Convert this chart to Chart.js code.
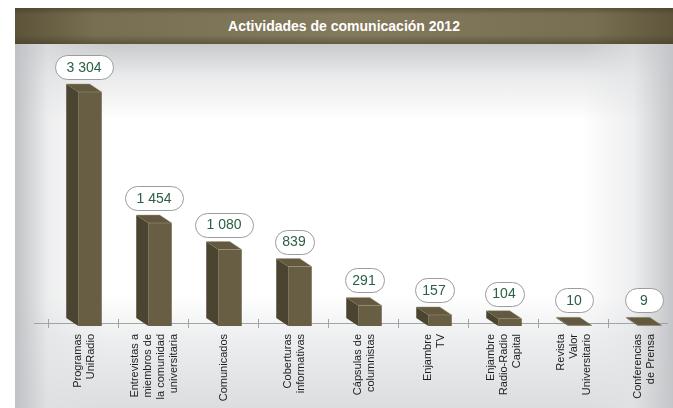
<!DOCTYPE html>
<html>
<head>
<meta charset="utf-8">
<title>Actividades de comunicación 2012</title>
<script src="https://cdn.jsdelivr.net/npm/chart.js@4.4.0/dist/chart.umd.min.js"></script>
<style>
  html, body { margin: 0; padding: 0; background: #fff; overflow: hidden; }
  .panel {
    position: absolute; left: 15px; top: 8px; width: 658px; height: 400px;
    background:
      linear-gradient(to right, rgba(192,193,196,1) 0%, rgba(225,226,228,0.6) 5%, rgba(255,255,255,0) 14%, rgba(255,255,255,0) 86%, rgba(226,227,229,0.6) 94%, rgba(196,197,200,1) 100%),
      linear-gradient(to bottom, #c9cacc 9%, #e9eaeb 17%, #fff 28%, #fff 72%, #eeeff0 82%, #dcdddf 100%);
  }
  .titleBar {
    position: absolute; left: 15px; top: 8px; width: 658px; height: 36px;
    background:
      linear-gradient(to bottom, rgba(60,52,34,0.45) 0%, rgba(0,0,0,0) 18%, rgba(0,0,0,0) 75%, rgba(60,52,34,0.45) 100%),
      linear-gradient(to right, #5c5339 0%, #786e51 12%, #847a5d 50%, #786e51 88%, #5e553b 100%);
    color: #fff; font: bold 14px "Liberation Sans", Arial, sans-serif;
    text-align: center; line-height: 36px;
  }
  #grafica { position: absolute; left: 0; top: 0; }
</style>
</head>
<body>
<div class="panel"></div>
<div class="titleBar">Actividades de comunicación 2012</div>
<canvas id="grafica" width="673" height="408"></canvas>
<script>
const categorias = [
  ["Programas", "UniRadio"],
  ["Entrevistas a", "miembros de", "la comunidad", "universitaria"],
  ["Comunicados"],
  ["Coberturas", "informativas"],
  ["Cápsulas de", "columnistas"],
  ["Enjambre", "TV"],
  ["Enjambre", "Radio-Radio", "Capital"],
  ["Revista", "Valor", "Universitario"],
  ["Conferencias", "de Prensa"]
];
const actividades = [3304, 1454, 1080, 839, 291, 157, 104, 10, 9];

// colores de las cajas
const FRENTE = "#685e44";
const LADO = "#4b4431";
const TAPA = "#625940";
const PROF_X = -12, PROF_Y = -8;

const fmt = (v) => String(v).replace(/\B(?=(\d{3})+(?!\d))/g, " ");

const cajas3d = {
  id: "cajas3d",
  beforeDatasetsDraw(chart) {
    const { ctx, chartArea, scales } = chart;
    const yEje = chartArea.bottom - 3;
    ctx.save();
    ctx.strokeStyle = "#a3a3a3";
    ctx.lineWidth = 1;
    ctx.beginPath();
    ctx.moveTo(chartArea.left, yEje + 0.5);
    ctx.lineTo(chartArea.right, yEje + 0.5);
    for (let i = 0; i <= categorias.length; i++) {
      const px = Math.round(scales.x.getPixelForValue(i - 0.6)) + 0.5;
      ctx.moveTo(px, yEje - 4);
      ctx.lineTo(px, yEje + 5);
    }
    ctx.stroke();
    ctx.restore();
  },
  afterDatasetsDraw(chart) {
    const ctx = chart.ctx;
    const meta = chart.getDatasetMeta(0);
    ctx.save();
    meta.data.forEach((bar) => {
      const { x, y, base, width } = bar.getProps(["x", "y", "base", "width"], true);
      const l = x - width / 2, r = x + width / 2;
      // cara lateral
      ctx.fillStyle = LADO;
      ctx.beginPath();
      ctx.moveTo(l, y);
      ctx.lineTo(l + PROF_X, y + PROF_Y);
      ctx.lineTo(l + PROF_X, base + PROF_Y);
      ctx.lineTo(l, base);
      ctx.closePath();
      ctx.fill();
      // tapa
      ctx.fillStyle = TAPA;
      ctx.beginPath();
      ctx.moveTo(l, y);
      ctx.lineTo(l + PROF_X, y + PROF_Y);
      ctx.lineTo(r + PROF_X, y + PROF_Y);
      ctx.lineTo(r, y);
      ctx.closePath();
      ctx.fill();
      // brillos en las aristas
      ctx.strokeStyle = "rgba(170,160,125,0.55)";
      ctx.lineWidth = 0.8;
      ctx.beginPath();
      ctx.moveTo(l + PROF_X, y + PROF_Y);
      ctx.lineTo(r + PROF_X, y + PROF_Y);
      ctx.lineTo(r, y);
      ctx.moveTo(l, y);
      ctx.lineTo(r, y);
      ctx.stroke();
    });
    ctx.restore();
  },
  afterDraw(chart) {
    const ctx = chart.ctx;
    const meta = chart.getDatasetMeta(0);
    const yEje = chart.chartArea.bottom - 3;
    ctx.save();
    meta.data.forEach((bar, i) => {
      const { x, y } = bar.getProps(["x", "y"], true);
      const cx = x - 6;

      // globo con el valor
      const txt = fmt(actividades[i]);
      ctx.font = "14px 'Liberation Sans', Arial, sans-serif";
      const tw = ctx.measureText(txt).width;
      const w = Math.max(38, Math.round(tw * 1.65));
      const h = 24;
      const cy = y - 25;
      ctx.beginPath();
      ctx.roundRect(Math.round(cx - w / 2) + 0.5, Math.round(cy - h / 2) + 0.5, w, h, 12);
      ctx.fillStyle = "#fff";
      ctx.fill();
      ctx.strokeStyle = "#9c9c9c";
      ctx.lineWidth = 1;
      ctx.stroke();
      ctx.fillStyle = "#2a6044";
      ctx.textAlign = "center";
      ctx.textBaseline = "middle";
      ctx.fillText(txt, cx, cy + 1);

      // etiqueta vertical
      const lineas = categorias[i];
      ctx.font = "11px 'Liberation Sans', Arial, sans-serif";
      ctx.fillStyle = "#1e1e1e";
      lineas.forEach((linea, j) => {
        const lx = cx + (j - (lineas.length - 1) / 2) * 13;
        ctx.save();
        ctx.translate(lx, yEje + 11);
        ctx.rotate(-Math.PI / 2);
        ctx.textAlign = "right";
        ctx.textBaseline = "middle";
        ctx.fillText(linea, 0, 0);
        ctx.restore();
      });
    });
    ctx.restore();
  }
};

new Chart(document.getElementById("grafica"), {
  type: "bar",
  data: {
    datasets: [{
      data: actividades.map((v, i) => ({ x: i, y: v })),
      backgroundColor: FRENTE,
      borderWidth: 0,
      barPercentage: 0.42,
      categoryPercentage: 1,
      clip: false
    }]
  },
  options: {
    responsive: false,
    devicePixelRatio: 1,
    animation: false,
    layout: { padding: { left: 34, right: 5, top: 71, bottom: 82 } },
    scales: {
      x: { type: "linear", min: -0.8, max: 8.257, offset: false, display: false },
      y: { min: 0, max: 3600, display: false }
    },
    plugins: {
      legend: { display: false },
      tooltip: { enabled: false }
    }
  },
  plugins: [cajas3d]
});
</script>
</body>
</html>
